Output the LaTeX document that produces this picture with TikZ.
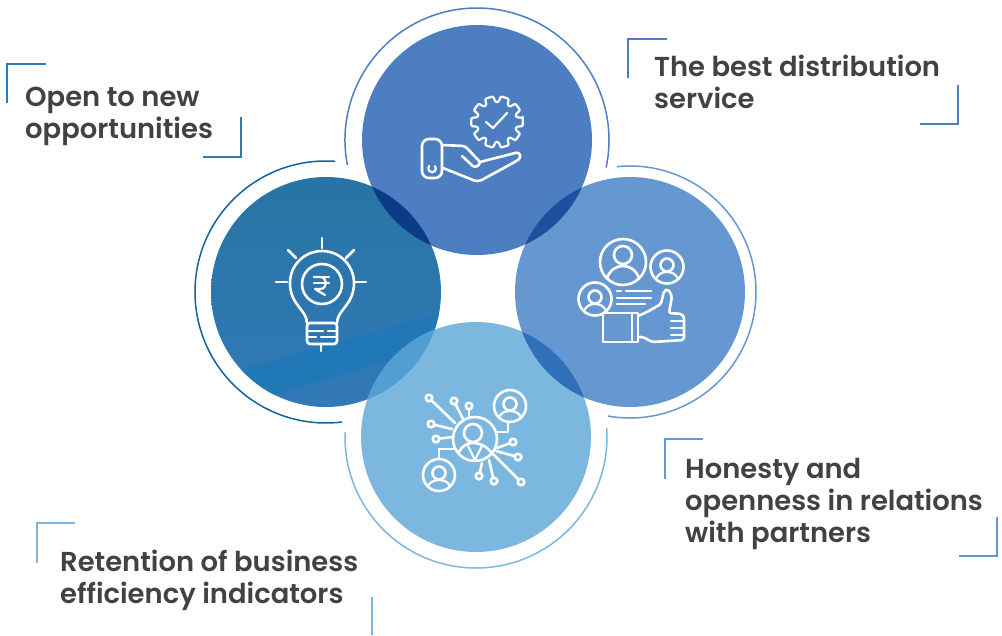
\documentclass[tikz,border=0pt]{standalone}
\usepackage{fontspec}
\usetikzlibrary{calc}
\setmainfont{Poppins SemiBold}
\definecolor{cblue}{HTML}{4D7EC1}
\definecolor{cdeep}{HTML}{2774A5}
\definecolor{cdeepb}{HTML}{2079B6}
\definecolor{cdeepc}{HTML}{3279B7}
\definecolor{cmid}{HTML}{6598D0}
\definecolor{csky}{HTML}{7CB7E0}
\definecolor{ctl}{HTML}{0D3C86}
\definecolor{ctr}{HTML}{1E4FA1}
\definecolor{clb}{HTML}{529DD2}
\definecolor{crb}{HTML}{3070B8}
\definecolor{cring}{HTML}{11649F}
\definecolor{cbrack}{HTML}{2D7DB5}
\definecolor{ctext}{HTML}{424242}
\tikzset{
  capt/.style={text=ctext, align=left, anchor=north west, inner sep=0pt, font=\fontsize{27.4}{32}\selectfont},
  ringpen/.style={line width=1.5pt},
  brack/.style={line width=1.4pt},
  iconpen/.style={draw=white, line width=2.6pt, line cap=round, line join=round},
  thinpen/.style={draw=white, line width=2.2pt, line cap=round, line join=round}
}
\begin{document}
\begin{tikzpicture}[x=1pt, y=1pt, yscale=-1]
\def \rad {115};

\useasboundingbox (0,0) rectangle (1002,635);

\coordinate (ctop) at (477,140);
\coordinate (cleft) at (326,292);
\coordinate (cright) at (630,292);
\coordinate (cbot) at (476,437);
\coordinate (cgear) at (497,122);

% circles
\shade[top color=cdeep, bottom color=cdeepc] (cleft) circle (\rad);
\begin{scope}
\clip (cleft) circle (\rad);
\fill[cdeepb] (445,311) -- (445,343) -- (225,410) -- (225,374) -- cycle;
\end{scope}
\fill[cmid] (cright) circle (\rad);
\fill[cblue] (ctop) circle (\rad);
\fill[csky] (cbot) circle (\rad);

% overlaps
\begin{scope}
\clip (ctop) circle (\rad);
\fill[ctl] (cleft) circle (\rad);
\fill[ctr] (cright) circle (\rad);
\end{scope}
\begin{scope}
\clip (cbot) circle (\rad);
\fill[clb] (cleft) circle (\rad);
\fill[crb] (cright) circle (\rad);
\end{scope}

% outer arcs
\draw[ringpen, cblue] ($(ctop)+(169:132)$) arc (169:372:132);
\draw[ringpen, cring] ($(cleft)+(274:131)$) arc (274:83:131);
\draw[ringpen, cmid] ($(cright)+(264:126)$) arc (264:460:126);
\draw[ringpen, csky] ($(cbot)+(182:131)$) arc (182:-4:131);

% corners
\draw[brack, cbrack] (7,103) -- (7,64) -- (46,64);
\draw[brack, cbrack] (203,157) -- (241,157) -- (241,117);
\draw[brack, cblue] (628,78) -- (628,39) -- (667,39);
\draw[brack, cblue] (920,124) -- (958,124) -- (958,85);
\draw[brack, cmid] (665,479) -- (665,439) -- (703,439);
\draw[brack, cmid] (959,556) -- (997,556) -- (997,517);
\draw[brack, csky] (37,563) -- (37,523) -- (75,523);
\draw[brack, csky] (372,597) -- (372,635);

% captions
\node[capt] (open) at (25,87) {Open to new\\opportunities};
\node[capt] (best) at (654,55) {The best distribution\\service};
\node[capt] (honest) at (685,458) {Honesty and\\openness in relations\\with partners};
\node[capt] (keep) at (60,550) {Retention of business\\efficiency indicators};

% hand and gear
\draw[iconpen, rounded corners=7pt] (422,139) rectangle (442,178);
\draw[thinpen] (435,166) arc (-40:220:3.8);
\draw[iconpen, rounded corners=3pt] (442,145) -- (465,146) -- (481,163) -- (475,168) -- (462,156);
\draw[iconpen, rounded corners=3pt] (480,162) -- (519,152) -- (521,158) -- (513,163);
\draw[iconpen, rounded corners=4pt] (513,163) -- (478,182) -- (443,168);
\draw[thinpen, rounded corners=1pt] ($(cgear)+(-9:26)$)
  \foreach \a in {0,36,...,324} {
    -- ($(cgear)+(\a+9:26)$) -- ($(cgear)+(\a+14:20)$) -- ($(cgear)+(\a+22:20)$) -- ($(cgear)+(\a+27:26)$)
  } -- cycle;
\draw[thinpen] (486,122) -- (493,128) -- (507,113);

% bulb
\draw[iconpen] (322,238) -- (322,248);
\draw[iconpen] (288,250) -- (296,258);
\draw[iconpen] (354,250) -- (346,258);
\draw[iconpen] (276,282) -- (287,282);
\draw[iconpen] (355,282) -- (366,282);
\draw[iconpen] (307,323) .. controls (307,310) and (290,305) .. (290,283) arc (180:360:32) .. controls (354,305) and (337,310) .. (337,323);
\draw[iconpen, rounded corners=3pt] (307,323) -- (307,344) -- (337,344) -- (337,323) -- cycle;
\draw[thinpen] (307,331) -- (323,331) (328,331) -- (337,331);
\draw[thinpen] (307,337) -- (316,337) (321,337) -- (337,337);
\draw[iconpen] (321,344) -- (321,351);
\draw[iconpen] (322,284) circle (20);
\draw[thinpen] (314,277) -- (329,277) (314,283) -- (329,283);
\draw[thinpen] (314,277) -- (320,277) .. controls (328,277) and (328,289) .. (320,289) -- (315,289) -- (325,295);

% people and thumb
\draw[iconpen] (623,262) circle (23);
\draw[iconpen] (623,255) circle (9);
\draw[iconpen] (607,278) .. controls (610,270) and (616,266) .. (623,266) .. controls (630,266) and (636,270) .. (639,278);
\draw[iconpen] (667,267) circle (16.5);
\draw[iconpen] (667,265) circle (6.5);
\draw[thinpen] (656,279) .. controls (658,274) and (662,272) .. (667,272) .. controls (672,272) and (676,274) .. (678,279);
\draw[iconpen] (595,299) circle (16.5);
\draw[iconpen] (595,297) circle (6.5);
\draw[thinpen] (584,311) .. controls (586,306) and (590,304) .. (595,304) .. controls (600,304) and (604,306) .. (606,311);
\draw[iconpen] (617,291) -- (621,291) (626,291) -- (651,291);
\draw[iconpen] (617,298) -- (651,298);
\draw[iconpen] (617,304) -- (645,304);
\draw[iconpen] (603,313) rectangle (632,342);
\draw[iconpen] (632,313) -- (638,313) -- (638,342) -- (632,342);
\draw[iconpen, rounded corners=2pt] (638,316) -- (647,312) -- (661,304) -- (664,291) -- (668,289) -- (672,296) -- (669,313) -- (682,314) -- (684,317) -- (684,340) -- (652,342) -- (643,337) -- (638,337);
\draw[thinpen] (671,321) -- (684,321) (671,328) -- (684,328) (671,335) -- (684,335);

% network
\draw[iconpen] (475,439) circle (22);
\draw[iconpen] (473,433) circle (9);
\draw[iconpen] (459,452) .. controls (462,446) and (467,443) .. (473,443) .. controls (480,443) and (486,446) .. (491,452);
\draw[thinpen] (468,446) -- (475,460) -- (482,446);
\draw[iconpen] (510,406) circle (16);
\draw[iconpen] (510,404) circle (6.5);
\draw[thinpen] (499,417) .. controls (501,413) and (505,411) .. (510,411) .. controls (515,411) and (519,413) .. (521,417);
\draw[iconpen] (508,422) -- (508,432) -- (497,432);
\draw[iconpen] (439,475) circle (16);
\draw[iconpen] (439,473) circle (6.5);
\draw[thinpen] (428,486) .. controls (430,482) and (434,480) .. (439,480) .. controls (444,480) and (448,482) .. (450,486);
\draw[iconpen] (439,459) -- (439,449) -- (455,449);
\foreach \px/\py/\qx/\qy in {429/398/455/423, 454/401/463/419, 469/406/469/416, 431/424/452/429, 436/439/453/437, 513/442/497/448, 518/457/496/451, 521/482/493/454, 494/481/489/460, 479/476/482/463} {
  \draw[iconpen] (\px,\py) -- (\qx,\qy);
  \fill[csky] (\px,\py) circle (3.3);
  \draw[iconpen] (\px,\py) circle (3.3);
}
\end{tikzpicture}
\end{document}
